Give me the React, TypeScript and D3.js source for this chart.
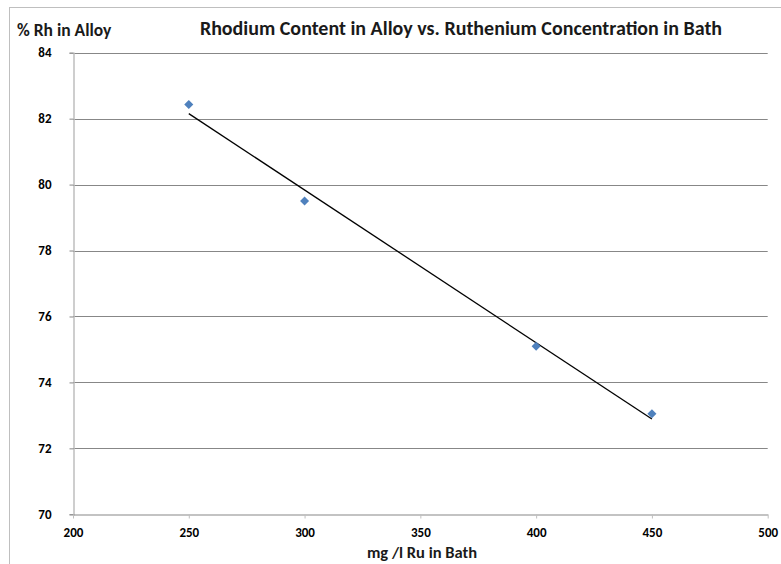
import React, { useEffect, useRef } from "react";
import * as d3 from "d3";

// values
const rutheniumMgL = [250, 300, 400, 450];
const rhodiumPct = [82.43, 79.5, 75.1, 73.05];
const xTicks = [200, 250, 300, 350, 400, 450, 500];
const yTicks = [70, 72, 74, 76, 78, 80, 82, 84];

const W = 781;
const H = 564;

const App = () => {
    const ref = useRef<SVGSVGElement>(null);

    useEffect(() => {
        const svg = d3.select(ref.current);
        svg.selectAll("*").remove();

        const margin = { top: 52.7, right: 13.3, bottom: 49.7, left: 73 };
        const x = d3.scaleLinear().domain([200, 500]).range([margin.left, W - margin.right]);
        const y = d3.scaleLinear().domain([70, 84]).range([H - margin.bottom, margin.top]);
        const font = "Carlito, 'Open Sans', 'Liberation Sans', sans-serif";

        // outer chart frame (right and bottom edges fall outside the picture)
        svg.append("rect")
            .attr("x", 9.5).attr("y", 7.5)
            .attr("width", 800).attr("height", 600)
            .attr("fill", "white")
            .attr("stroke", "#bfbfbf");

        // horizontal gridlines
        svg.append("g")
            .selectAll("line")
            .data(yTicks.slice(1))
            .join("line")
            .attr("x1", x(200)).attr("x2", x(500))
            .attr("y1", d => Math.round(y(d)) + 0.5).attr("y2", d => Math.round(y(d)) + 0.5)
            .attr("stroke", "#878787");

        // y axis
        const yAxis = svg.append("g")
            .attr("transform", `translate(${Math.round(x(200)) + 0.5},0)`)
            .call(d3.axisLeft(y).tickValues(yTicks).tickSize(4).tickPadding(18));
        yAxis.select(".domain").attr("stroke", "#bfbfbf").attr("stroke-width", 1.5);
        yAxis.selectAll(".tick line").attr("stroke", "#878787");
        yAxis.selectAll("text")
            .attr("font-family", font).attr("font-weight", "bold")
            .attr("font-size", 13).attr("fill", "#000");

        // x axis
        const xAxis = svg.append("g")
            .attr("transform", `translate(0,${Math.round(y(70)) + 0.5})`)
            .call(d3.axisBottom(x).tickValues(xTicks).tickSize(4).tickSizeOuter(0).tickPadding(9));
        xAxis.select(".domain").attr("stroke", "#878787");
        xAxis.selectAll(".tick line").attr("stroke", "#bfbfbf");
        xAxis.selectAll("text")
            .attr("font-family", font).attr("font-weight", "bold")
            .attr("font-size", 13).attr("fill", "#000");

        // linear trendline (least squares on the points)
        const mx = d3.mean(rutheniumMgL)!;
        const my = d3.mean(rhodiumPct)!;
        const sxy = d3.sum(rutheniumMgL, (v, i) => (v - mx) * (rhodiumPct[i] - my));
        const sxx = d3.sum(rutheniumMgL, v => (v - mx) ** 2);
        const slope = sxy / sxx;
        const fit = (v: number) => my + slope * (v - mx);
        const ends = d3.extent(rutheniumMgL) as [number, number];
        svg.append("path")
            .datum(ends)
            .attr("d", d3.line<number>().x(d => x(d)).y(d => y(fit(d))))
            .attr("fill", "none")
            .attr("stroke", "#000")
            .attr("stroke-width", 1.3);

        // markers
        svg.append("g")
            .selectAll("path")
            .data(rutheniumMgL)
            .join("path")
            .attr("transform", (d, i) => `translate(${x(d)},${y(rhodiumPct[i])})`)
            .attr("d", d3.symbol(d3.symbolDiamond2, 52)())
            .attr("fill", "#4f81bd");

        // titles
        svg.append("text")
            .attr("x", 461).attr("y", 35)
            .attr("text-anchor", "middle")
            .attr("font-family", font).attr("font-weight", "bold").attr("font-size", 20)
            .attr("fill", "#1a1a1a")
            .text("Rhodium Content in Alloy vs. Ruthenium Concentration in Bath");
        svg.append("text")
            .attr("x", 17).attr("y", 36)
            .attr("font-family", font).attr("font-weight", "bold").attr("font-size", 17.5)
            .attr("fill", "#1a1a1a")
            .text("% Rh in Alloy");
        svg.append("text")
            .attr("x", 422).attr("y", 558)
            .attr("text-anchor", "middle")
            .attr("font-family", font).attr("font-weight", "bold").attr("font-size", 16.5)
            .attr("fill", "#1a1a1a")
            .text("mg /l Ru in Bath");
    }, []);

    return (
        <svg
            ref={ref}
            width={W}
            height={H}
            style={{ position: "absolute", left: 0, top: 0, display: "block", background: "white" }}
        />
    );
};

export default App;
